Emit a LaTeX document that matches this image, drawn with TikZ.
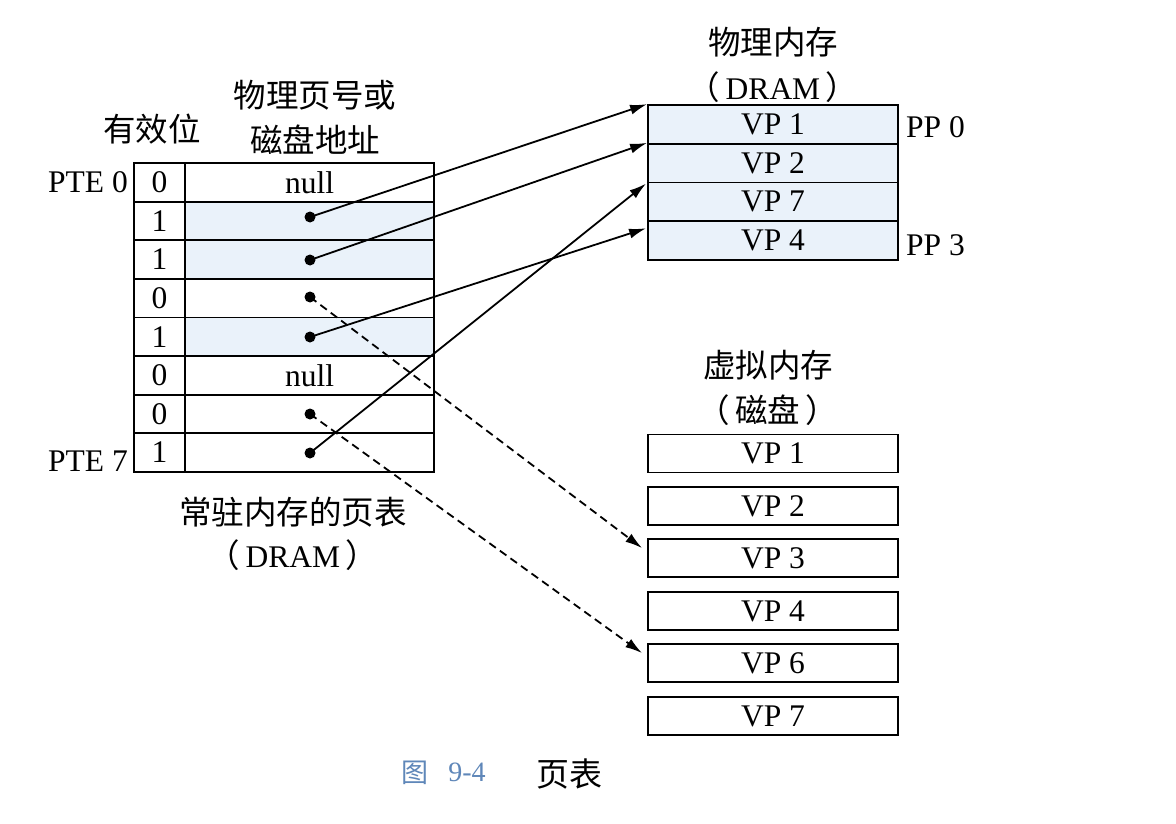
\documentclass[tikz,border=0pt]{standalone}
\usepackage{fontspec}
\setmainfont{Liberation Serif}
\newfontfamily\cjk{Noto Sans CJK SC}
\usetikzlibrary{arrows.meta,calc}
\definecolor{cellblue}{RGB}{234,242,250}
\definecolor{capblue}{RGB}{95,135,185}
\newcommand{\lat}{\fontsize{31.5}{34}\selectfont}
\newcommand{\han}{\cjk\fontsize{32.5}{36}\selectfont}
\newcommand{\lp}{{\han （\,}}
\newcommand{\rp}{{\han \,）}}
\begin{document}
\begin{tikzpicture}[x=1pt,y=-1pt,
  cell/.style={draw, line width=1.8pt, inner sep=0pt, minimum height=38.6pt, font=\lat},
  vcell/.style={cell, minimum width=51pt},
  pcell/.style={cell, minimum width=249pt},
  mem/.style={draw, line width=1.8pt, inner sep=0pt, minimum width=250pt, minimum height=38.7pt, fill=cellblue, font=\lat},
  disk/.style={draw, line width=1.8pt, inner sep=0pt, minimum width=250pt, minimum height=38pt, font=\lat},
  dot/.style={circle, fill=black, inner sep=0pt, minimum size=11pt},
  lbl/.style={inner sep=0pt, font=\lat},
  hlbl/.style={inner sep=0pt, font=\han},
  arr/.style={line width=1.8pt, -{Latex[length=17pt,width=10pt]}},
  darr/.style={arr, dash pattern=on 8pt off 5pt}
]
\useasboundingbox[fill=white] (0,0) rectangle (1176,824);

% page table
\foreach \v/\f [count=\i from 0] in {0/white,1/cellblue,1/cellblue,0/white,1/cellblue,0/white,0/white,1/white} {
  \node[vcell] (v\i) at (159.5, {182.3+38.6*\i}) {\v};
  \node[pcell, fill=\f] (p\i) at (309.5, {182.3+38.6*\i}) {};
}
\node[lbl] (n0) at (p0) {null};
\node[lbl] (n5) at (p5) {null};

\node[dot] (d1) at (310,217) {};
\node[dot] (d2) at (310,260) {};
\node[dot] (d3) at (310,297) {};
\node[dot] (d4) at (310,337) {};
\node[dot] (d6) at (310,414) {};
\node[dot] (d7) at (310,453) {};

\node[lbl, anchor=east] (pte0) at (128,182.3) {PTE 0};
\node[lbl, anchor=east] (pte7) at (128,461) {PTE 7};
\node[hlbl] (valid) at (152,129) {有效位};
\node[hlbl] (ppn1) at (315,95) {物理页号或};
\node[hlbl] (ppn2) at (315,140) {磁盘地址};
\node[hlbl] (pt1) at (293,512) {常驻内存的页表};
\node[lbl] (pt2) at (293,555) {\lp DRAM\rp};

% physical memory
\foreach \t [count=\i from 0] in {VP 1,VP 2,VP 7,VP 4} {
  \node[mem] (m\i) at (773, {124.4+38.7*\i}) {\t};
}
\node[lbl, anchor=west] (pp0) at (906,127) {PP 0};
\node[lbl, anchor=west] (pp3) at (906,245) {PP 3};
\node[hlbl] (pm1) at (773,42) {物理内存};
\node[lbl] (pm2) at (773,87) {\lp DRAM\rp};

% virtual memory (disk)
\node[disk] (s1) at (773,453.5) {VP 1};
\node[disk] (s2) at (773,506) {VP 2};
\node[disk] (s3) at (773,558) {VP 3};
\node[disk] (s4) at (773,611) {VP 4};
\node[disk] (s6) at (773,663) {VP 6};
\node[disk] (s7) at (773,716) {VP 7};
\node[hlbl] (vm1) at (768,365) {虚拟内存};
\node[hlbl] (vm2) at (768,410) {（\,磁盘\,）};

% connectors
\draw[arr] (d1.center) -- (m0.north west);
\draw[arr] (d2.center) -- (m1.north west);
\draw[arr] (d4.center) -- ($(m3.north west)+(-1,8)$);
\draw[arr] (d7.center) -- ($(m2.north west)+(-1,2)$);
\draw[darr] (d3.center) -- ($(s3.north west)+(-5,10)$);
\draw[darr] (d6.center) -- ($(s6.north west)+(-5,10)$);

% caption
\node[inner sep=0pt, text=capblue, font=\cjk\fontsize{27}{30}\selectfont] (cap1) at (415,773) {图};
\node[inner sep=0pt, text=capblue, font=\fontsize{28}{30}\selectfont] (cap2) at (467,772) {9-4};
\node[inner sep=0pt, font=\cjk\fontsize{33}{36}\selectfont] (cap3) at (569,774) {页表};
\end{tikzpicture}
\end{document}
